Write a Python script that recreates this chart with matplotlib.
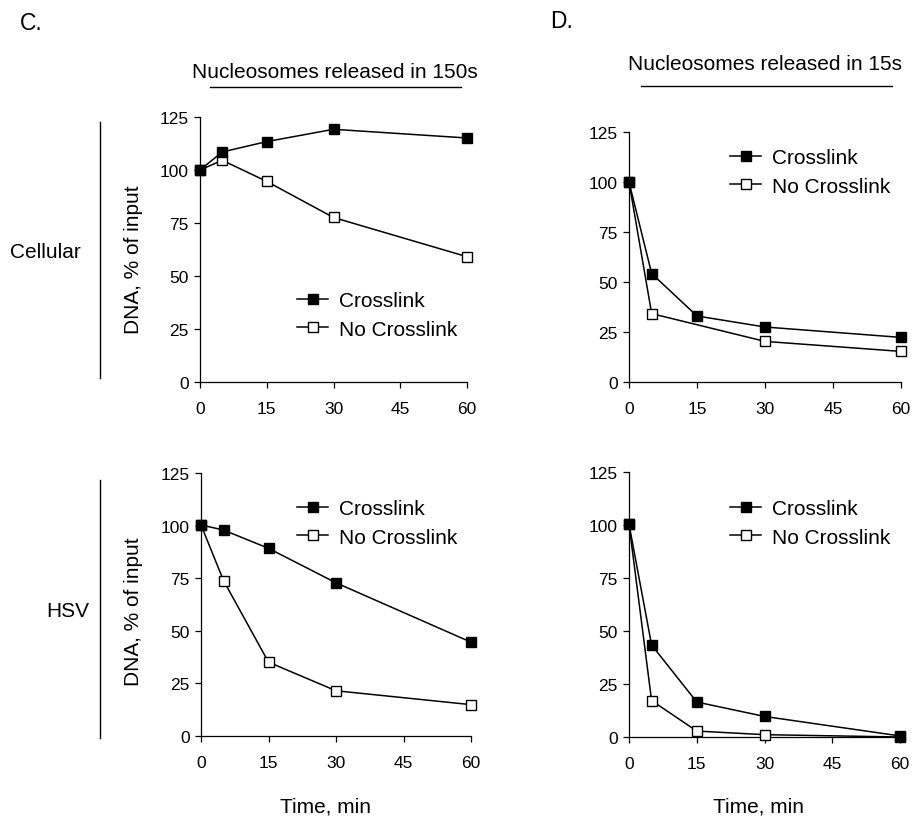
import matplotlib
matplotlib.use('Agg')
import matplotlib.pyplot as plt
from matplotlib.lines import Line2D

###
# DATA
###
TIME = [0, 5, 15, 30, 60]
TIME_D_TOP_NOXL = [0, 5, 30, 60]

CELL_150_XL = [100, 108.5, 113.4, 119.2, 115.1]
CELL_150_NOXL = [100, 104.6, 94.6, 77.6, 59.1]

CELL_15_XL = [100, 54.2, 33.0, 27.5, 22.3]
CELL_15_NOXL = [100, 34.2, 20.3, 15.3]

HSV_150_XL = [100.3, 97.9, 89.2, 72.8, 44.6]
HSV_150_NOXL = [100.3, 73.9, 35.1, 21.5, 14.9]

HSV_15_XL = [100.4, 43.4, 16.5, 9.7, 0.5]
HSV_15_NOXL = [100.4, 17.2, 2.8, 1.1, 0.0]

XTICKS = [0, 15, 30, 45, 60]
YTICKS = [0, 25, 50, 75, 100, 125]

###
# PLOT SETTINGS
###
W, H = 913, 820
plt.rcParams['font.family'] = ['Liberation Sans', 'DejaVu Sans']
fig = plt.figure(figsize=(W/100., H/100.), dpi=100)


def px_axes(x0, y0, x1, y1):
    # pixel box (top-left origin) -> figure fraction
    return fig.add_axes([x0/W, 1-y1/H, (x1-x0)/W, (y1-y0)/H])


def style(ax):
    ax.set_xlim(0, 60)
    ax.set_ylim(0, 125)
    ax.set_xticks(XTICKS)
    ax.set_yticks(YTICKS)
    for s in ['top', 'right']:
        ax.spines[s].set_visible(False)
    for s in ['left', 'bottom']:
        ax.spines[s].set_linewidth(0.9)
    ax.tick_params(direction='out', length=4, width=0.9, labelsize=12.5, pad=4)
    ax.tick_params(axis='x', pad=10)


def draw(ax, x1, y1, x2, y2, legend_xy):
    ax.plot(x1, y1, color='black', lw=1.1, marker='s', markersize=7,
            markerfacecolor='black', markeredgecolor='black',
            label='Crosslink', clip_on=False, zorder=4)
    ax.plot(x2, y2, color='black', lw=1.1, marker='s', markersize=7,
            markerfacecolor='white', markeredgecolor='black',
            label='No Crosslink', clip_on=False, zorder=3)
    style(ax)
    ax.legend(loc='upper left', bbox_to_anchor=(legend_xy[0]/W, 1-legend_xy[1]/H),
              bbox_transform=fig.transFigure, frameon=False, fontsize=15,
              borderpad=0, borderaxespad=0, handlelength=1.5,
              handletextpad=0.5, labelspacing=0.46, numpoints=1)


ax_c1 = px_axes(200, 118, 467, 383)
draw(ax_c1, TIME, CELL_150_XL, TIME, CELL_150_NOXL, (297, 292))

ax_d1 = px_axes(629, 133, 901, 383)
draw(ax_d1, TIME, CELL_15_XL, TIME_D_TOP_NOXL, CELL_15_NOXL, (730, 149))

ax_c2 = px_axes(201, 474, 471, 737)
draw(ax_c2, TIME, HSV_150_XL, TIME, HSV_150_NOXL, (297, 500))

ax_d2 = px_axes(629, 473, 900, 738)
draw(ax_d2, TIME, HSV_15_XL, TIME, HSV_15_NOXL, (730, 500))

# y labels
fig.text(133/W, 1-260/H, 'DNA, % of input', rotation=90, fontsize=15,
         ha='center', va='center')
fig.text(133/W, 1-612/H, 'DNA, % of input', rotation=90, fontsize=15,
         ha='center', va='center')

# x labels
fig.text(325/W, 1-807/H, 'Time, min', fontsize=15, ha='center', va='center')
fig.text(758/W, 1-807/H, 'Time, min', fontsize=15, ha='center', va='center')

# panel letters
fig.text(20/W, 1-23/H, 'C.', fontsize=16.5, ha='left', va='center')
fig.text(550/W, 1-22/H, 'D.', fontsize=16.5, ha='left', va='center')

# titles with bars
fig.text(334.5/W, 1-73/H, 'Nucleosomes released in 150s', fontsize=15,
         ha='center', va='center')
fig.text(765/W, 1-64/H, 'Nucleosomes released in 15s', fontsize=15,
         ha='center', va='center')
fig.add_artist(Line2D([210/W, 461/W], [1-87.7/H, 1-87.7/H], color='black', lw=1.0))
fig.add_artist(Line2D([641/W, 892/W], [1-87.3/H, 1-87.3/H], color='black', lw=1.0))

# row labels with vertical bars
fig.text(45/W, 1-252/H, 'Cellular', fontsize=15, ha='center', va='center')
fig.text(67.5/W, 1-612/H, 'HSV', fontsize=15, ha='center', va='center')
fig.add_artist(Line2D([100/W, 100/W], [1-122.7/H, 1-379/H], color='black', lw=1.0))
fig.add_artist(Line2D([100/W, 100/W], [1-480.7/H, 1-739/H], color='black', lw=1.0))

plt.savefig('out.png', dpi=100)
